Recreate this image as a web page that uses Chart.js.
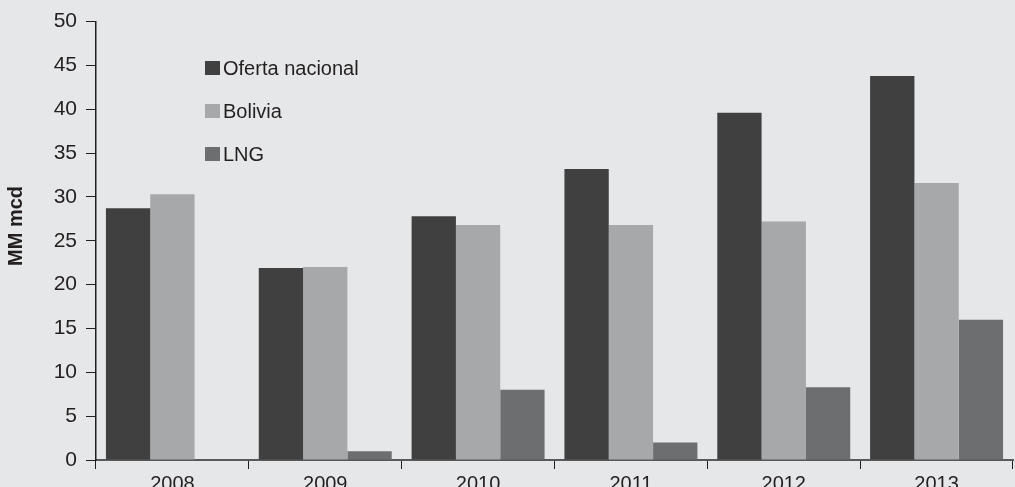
<!DOCTYPE html>
<html>
<head>
<meta charset="utf-8">
<script src="https://cdn.jsdelivr.net/npm/chart.js@4"></script>
<style>
  body { margin: 0; background: #e6e7e8; }
  #wrap { width: 1015px; height: 487px; }
</style>
</head>
<body>
<div id="wrap"><canvas id="canvas"></canvas></div>
<script>
const years = ['2008', '2009', '2010', '2011', '2012', '2013'];
const oferta = [28.7, 21.9, 27.8, 33.2, 39.6, 43.8];
const bolivia = [30.3, 22.0, 26.8, 26.8, 27.2, 31.6];
const lng = [0, 1.0, 8.0, 2.0, 8.3, 16.0];

const seriesNames = ['Oferta nacional', 'Bolivia', 'LNG'];
const seriesColors = ['#404040', '#a7a8aa', '#6d6e70'];
const fontFam = '"Liberation Sans", Arial, sans-serif';

// legend inside the plot, stacked, plus the rotated y title
const extras = {
    id: 'extras',
    afterDraw(chart) {
        const ctx = chart.ctx;
        ctx.save();
        ctx.font = '20px ' + fontFam;
        ctx.textBaseline = 'middle';
        chart.data.datasets.forEach((ds, i) => {
            const y = 68 + i * 43;
            ctx.fillStyle = ds.backgroundColor;
            ctx.fillRect(205, y - 7, 15, 14);
            ctx.fillStyle = '#231f20';
            ctx.fillText(ds.label, 223, y + 1);
        });

        ctx.translate(16, 226);
        ctx.rotate(-Math.PI / 2);
        ctx.textAlign = 'center';
        ctx.font = 'bold 20px ' + fontFam;
        ctx.fillText('MM mcd', 0, 0);
        ctx.restore();
    }
};

const fc = document.getElementById('canvas').getContext('2d');
new Chart(fc, {
    type: 'bar',
    data: {
        labels: years,
        datasets: [
            { label: seriesNames[0], data: oferta, backgroundColor: seriesColors[0] },
            { label: seriesNames[1], data: bolivia, backgroundColor: seriesColors[1] },
            { label: seriesNames[2], data: lng, backgroundColor: seriesColors[2] }
        ]
    },
    options: {
        responsive: true,
        maintainAspectRatio: false,
        animation: false,
        layout: { padding: { top: 10, right: 2, left: 0, bottom: 0 } },
        datasets: { bar: { categoryPercentage: 0.87, barPercentage: 1.0 } },
        plugins: {
            legend: { display: false },
            tooltip: { enabled: false }
        },
        scales: {
            x: {
                grid: {
                    offset: true,
                    drawOnChartArea: false,
                    tickLength: 9,
                    color: '#231f20'
                },
                border: { color: '#58595b', width: 2 },
                ticks: {
                    color: '#231f20',
                    padding: 3,
                    font: { family: fontFam, size: 20 }
                },
                afterFit(scale) { scale.height = 27; }
            },
            y: {
                min: 0,
                max: 50,
                ticks: {
                    stepSize: 5,
                    color: '#231f20',
                    padding: 9,
                    font: { family: fontFam, size: 21 }
                },
                grid: {
                    drawOnChartArea: false,
                    tickLength: 10,
                    color: '#231f20'
                },
                border: { color: '#231f20', width: 1.5 },
                afterFit(scale) { scale.width = 96; }
            }
        }
    },
    plugins: [extras]
});
</script>
</body>
</html>
